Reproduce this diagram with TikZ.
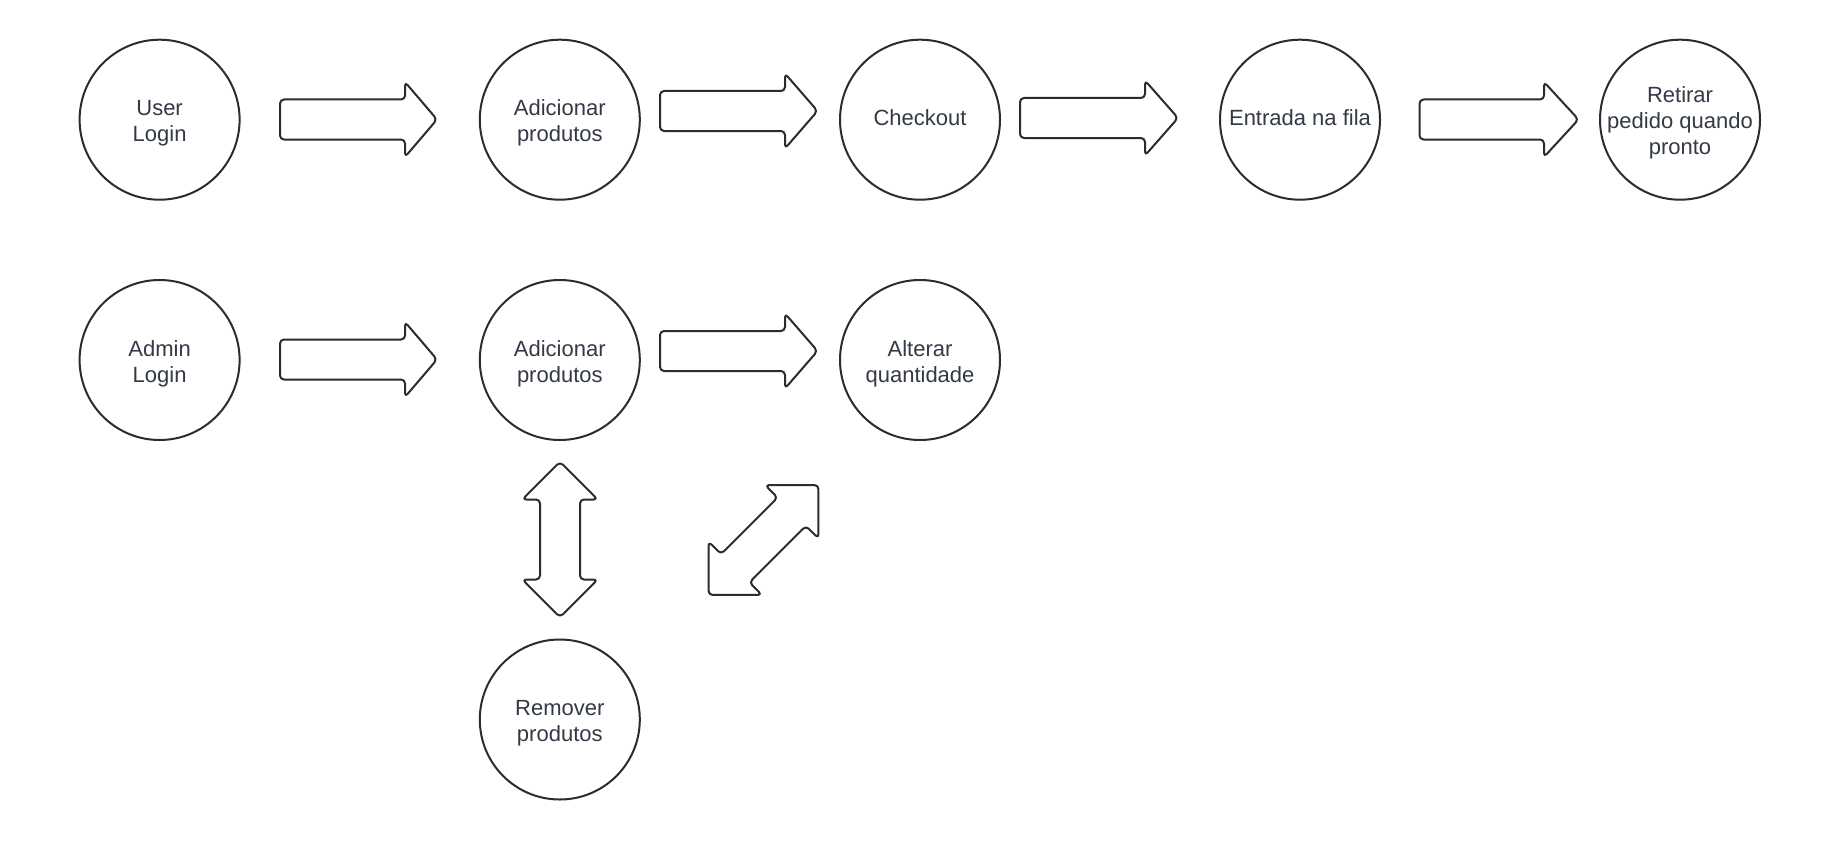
\documentclass[tikz,border=0pt]{standalone}
\usepackage{fontspec}
\setmainfont{Liberation Sans}
\definecolor{lc}{HTML}{282C33}
\definecolor{tc}{HTML}{333A45}
\tikzset{
  circ/.style={circle, draw=lc, line width=1pt, minimum size=80pt, inner sep=0pt, fill=white},
  txt/.style={text=tc, align=center, inner sep=0pt, font=\fontsize{11}{13}\selectfont},
  multi/.style={txt, yshift=-1.8pt},
  single/.style={txt, yshift=1.1pt},
  blk/.style={draw=lc, line width=1pt, rounded corners=2pt, line join=round},
}
\newcommand\rarrow[4]{%
  \draw[blk] (#1,#4-20) -- (#2,#4-20) -- (#2,#4-37.5) -- (#3,#4) -- (#2,#4+37.5) -- (#2,#4+20) -- (#1,#4+20) -- cycle;}
\newcommand\vdbl{%
  \draw[blk] (0,-77.7) -- (37.7,-40) -- (20,-40) -- (20,40) -- (37.7,40) -- (0,77.7) -- (-37.7,40) -- (-20,40) -- (-20,-40) -- (-37.7,-40) -- cycle;}
\begin{document}
\begin{tikzpicture}[x=0.5pt,y=-0.5pt]
\fill[white] (0,0) rectangle (1840,840);
\useasboundingbox (0,0) rectangle (1840,840);
% row 1
\node[circ, label={[multi]center:{User\\Login}}] (ul) at (159.6,119.7) {};
\node[circ, label={[multi]center:{Adicionar\\produtos}}] (ua) at (559.8,119.7) {};
\node[circ, label={[single]center:{Checkout}}] (uc) at (920,119.7) {};
\node[circ, label={[single]center:{Entrada na fila}}] (ue) at (1300,119.7) {};
\node[circ, label={[multi]center:{Retirar\\pedido quando\\pronto}}] (ur) at (1680,119.7) {};
% row 2
\node[circ, label={[multi]center:{Admin\\Login}}] (al) at (159.6,360) {};
\node[circ, label={[multi]center:{Adicionar\\produtos}}] (aa) at (559.8,360) {};
\node[circ, label={[multi]center:{Alterar\\quantidade}}] (aq) at (920,360) {};
% row 3
\node[circ, label={[multi]center:{Remover\\produtos}}] (rp) at (559.8,719.5) {};
% block arrows
\rarrow{280}{405}{437}{119.5}
\rarrow{660}{785}{817.5}{111}
\rarrow{1020}{1145}{1178}{118}
\rarrow{1419.5}{1544}{1578.5}{119.5}
\rarrow{280}{405}{437}{359.5}
\rarrow{660}{785}{817.5}{351}
\begin{scope}[shift={(560,539.5)}]
  \vdbl
\end{scope}
\begin{scope}[shift={(763.5,540)}]
  \begin{scope}[rotate=-45]
    \vdbl
  \end{scope}
\end{scope}
\end{tikzpicture}
\end{document}
